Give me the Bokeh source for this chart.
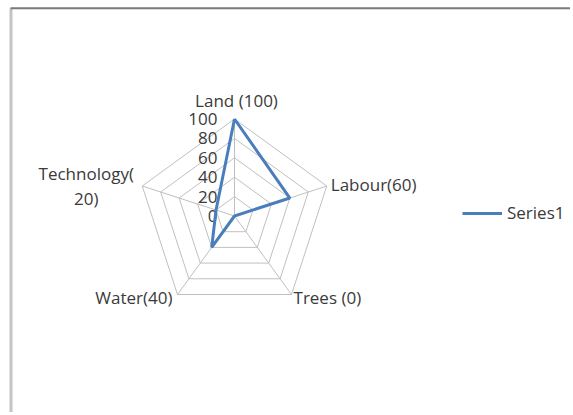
import numpy as np
from bokeh.plotting import figure
from bokeh.models import Range1d, ColumnDataSource, Legend, LegendItem
from bokeh.core.properties import value
from bokeh.embed import file_html
from bokeh.resources import INLINE

# ---- data ----
categories = ["Land (100)", "Labour(60)", "Trees (0)", "Water(40)", "Technology(\n20)"]
series1 = [100, 60, 0, 40, 20]
ticks = [0, 20, 40, 60, 80, 100]
tick_labels = ["0", "20", "40", "60", "80", "100"]
series_name = "Series1"

# ---- geometry (page pixel space, y downward) ----
W, H = 570, 412
CX, CY, R = 234.0, 215.5, 97.0
VMAX = 100.0
n = len(categories)
angles = np.pi / 2 - np.arange(n) * 2 * np.pi / n  # start at top, clockwise

def to_xy(vals):
    v = np.asarray(vals, dtype=float)
    r = v / VMAX * R
    return CX + r * np.cos(angles[: len(v)]), CY - r * np.sin(angles[: len(v)])

p = figure(width=W, height=H, output_backend="svg", toolbar_location=None,
           x_range=Range1d(0, W), y_range=Range1d(H, 0),
           min_border=0, outline_line_color=None)
p.axis.visible = False
p.grid.visible = False
p.background_fill_color = "white"
p.border_fill_color = "white"

FONT = value("Open Sans")
TXT = "#3a3a3a"

# frame (chart area border)
p.line([10.5, 10.5], [8, H], line_color="#c4c4c4", line_width=3)
p.line([10, W], [7.8, 7.8], line_color="#7a7a7a", line_width=2)

# grid rings
ring_xs, ring_ys = [], []
for t in ticks[1:]:
    xs, ys = to_xy([t] * n)
    ring_xs.append(list(xs) + [xs[0]])
    ring_ys.append(list(ys) + [ys[0]])
p.multi_line(ring_xs, ring_ys, line_color="#c0c0c0", line_width=1)

# spokes
ox, oy = to_xy([VMAX] * n)
p.segment(x0=[CX] * n, y0=[CY] * n, x1=list(ox), y1=list(oy),
          line_color="#c0c0c0", line_width=1)

# tick labels
tick_y = [CY - t / VMAX * R for t in ticks]
p.text(x=[CX - 17] * len(ticks), y=tick_y, text=tick_labels, text_font=FONT,
       text_font_size="17px", text_color=TXT, text_align="right",
       text_baseline="middle")

# category labels
offs = [(2, -19, "center"), (4, -2, "left"), (2, 3, "left"), (-5, 3, "right"), (-56, 0, "center")]
for i, lab in enumerate(categories):
    dx, dy, al = offs[i]
    p.text(x=[ox[i] + dx], y=[oy[i] + dy], text=[lab], text_font=FONT,
           text_font_size="17px", text_color=TXT, text_align=al,
           text_baseline="middle", text_line_height=1.05)

# series
sx, sy = to_xy(series1)
src = ColumnDataSource(dict(x=list(sx) + [sx[0]], y=list(sy) + [sy[0]]))
r1 = p.line("x", "y", source=src, line_color="#4a7ebb", line_width=3)

legend = Legend(items=[LegendItem(label=series_name, renderers=[r1])],
                location=(462, H - 214 - 10), padding=0, margin=0, spacing=0,
                glyph_width=40, glyph_height=20, label_height=20,
                label_standoff=5, border_line_color=None,
                background_fill_alpha=0, label_text_font="Open Sans",
                label_text_font_size="17px", label_text_color=TXT)
p.add_layout(legend)

open("out.html", "w").write(file_html(p, INLINE))
